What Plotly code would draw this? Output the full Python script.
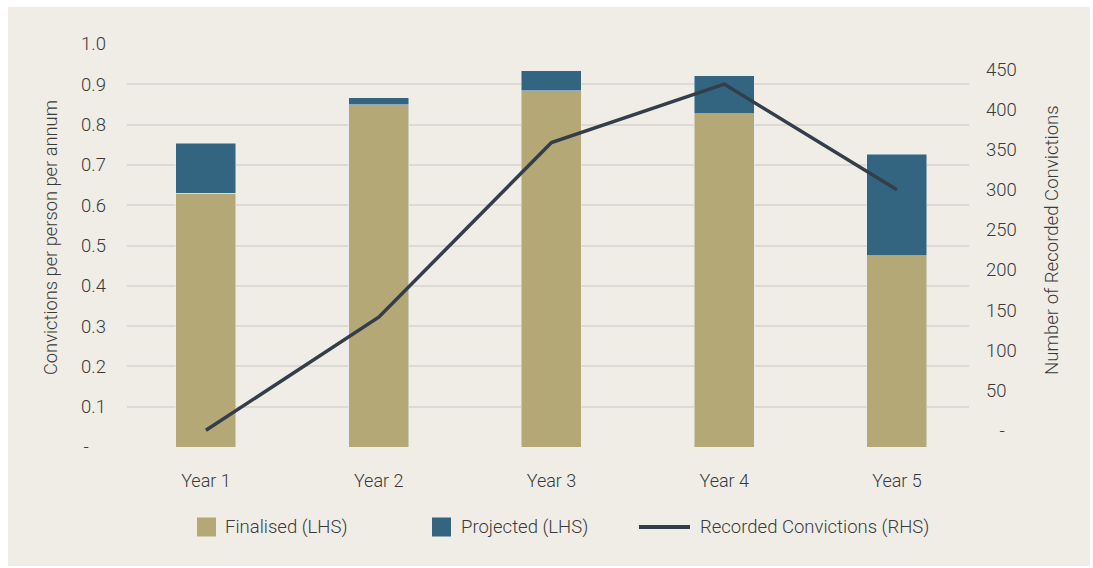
import plotly.graph_objects as go

# ---- data ----
years = ["Year 1", "Year 2", "Year 3", "Year 4", "Year 5"]
finalised = [0.630, 0.849, 0.884, 0.827, 0.474]
projected = [0.124, 0.018, 0.050, 0.094, 0.253]
recorded = [0, 141, 359, 432, 300]

NB = "\u00a0"
left_ticks = [0, 0.1, 0.2, 0.3, 0.4, 0.5, 0.6, 0.7, 0.8, 0.9, 1.0]
left_labels = ["-" + NB * 3 + "\u2009", "0.1", "0.2", "0.3", "0.4", "0.5", "0.6",
               "0.7", "0.8", "0.9", "1.0"]
right_ticks = [0, 50, 100, 150, 200, 250, 300, 350, 400, 450]
right_labels = [NB * 3 + "-", "50", "100", "150", "200", "250", "300", "350", "400", "450"]

# ---- style ----
W, H = 1093, 568
BG = "#F0EDE7"
GOLD = "#B5A877"
BLUE = "#336580"
LINE = "#333E4A"
GRID = "#DDDAD5"
TEXT = "#3A3A3A"
FONT = "Roboto"
FW = 300

ML, MR, MT, MB = 127, 124, 44, 121
PW, PH = W - ML - MR, H - MT - MB


def px(x):
    return (x - ML) / PW


def py(y):
    return (H - MB - y) / PH


def tfont(size):
    return dict(family=FONT, size=size, color=TEXT, weight=FW)


fig = go.Figure()
fig.add_bar(x=years, y=finalised, name="Finalised (LHS)", marker_color=GOLD,
            width=0.347, showlegend=False)
fig.add_bar(x=years, y=projected, name="Projected (LHS)", marker_color=BLUE,
            width=0.347, showlegend=False)
fig.add_scatter(x=years, y=recorded, name="Recorded Convictions (RHS)", yaxis="y2",
                mode="lines", line=dict(color=LINE, width=3.5), showlegend=False)

fig.update_layout(
    width=W, height=H,
    margin=dict(l=ML, r=MR, t=MT, b=MB),
    paper_bgcolor="white",
    plot_bgcolor="rgba(0,0,0,0)",
    barmode="stack",
    font=tfont(18),
    xaxis=dict(range=[-0.457, 4.417], showgrid=False, zeroline=False, showline=False,
               ticks="", ticklabelstandoff=21, tickfont=tfont(18)),
    yaxis=dict(range=[0, 1.0], tickvals=left_ticks, ticktext=left_labels,
               showgrid=True, gridcolor=GRID, gridwidth=1.5, zeroline=False,
               showline=False, ticks="", ticklabelstandoff=20, tickfont=tfont(18.5)),
    yaxis2=dict(range=[-20.9, 482], overlaying="y", side="right",
                tickvals=right_ticks, ticktext=right_labels, showgrid=False,
                zeroline=False, showline=False, ticks="", ticklabelstandoff=16,
                tickfont=tfont(18.5)),
)

# background panel
fig.add_shape(type="rect", xref="paper", yref="paper", layer="below",
              x0=px(8), x1=px(1090), y0=py(566), y1=py(7),
              fillcolor=BG, line_width=0)

# axis titles
fig.add_annotation(text="Convictions per person per annum", xref="paper", yref="paper",
                   x=px(50), y=py(238), textangle=-90, showarrow=False,
                   xanchor="center", yanchor="middle", font=tfont(18.3))
fig.add_annotation(text="Number of Recorded Convictions", xref="paper", yref="paper",
                   x=px(1052), y=py(240), textangle=-90, showarrow=False,
                   xanchor="center", yanchor="middle", font=tfont(18.6))

# legend
LY = 527
fig.add_shape(type="rect", xref="paper", yref="paper", x0=px(197), x1=px(216),
              y0=py(LY + 9.5), y1=py(LY - 9.5), fillcolor=GOLD, line_width=0)
fig.add_annotation(text="Finalised (LHS)", xref="paper", yref="paper", x=px(223), y=py(LY),
                   xanchor="left", yanchor="middle", showarrow=False, font=tfont(18.5))
fig.add_shape(type="rect", xref="paper", yref="paper", x0=px(432), x1=px(451),
              y0=py(LY + 9.5), y1=py(LY - 9.5), fillcolor=BLUE, line_width=0)
fig.add_annotation(text="Projected (LHS)", xref="paper", yref="paper", x=px(459), y=py(LY),
                   xanchor="left", yanchor="middle", showarrow=False, font=tfont(18.5))
fig.add_shape(type="line", xref="paper", yref="paper", x0=px(639), x1=px(690),
              y0=py(LY), y1=py(LY), line=dict(color=LINE, width=4))
fig.add_annotation(text="Recorded Convictions (RHS)", xref="paper", yref="paper", x=px(698),
                   y=py(LY), xanchor="left", yanchor="middle", showarrow=False,
                   font=tfont(18.5))

fig.write_html("out.html")
